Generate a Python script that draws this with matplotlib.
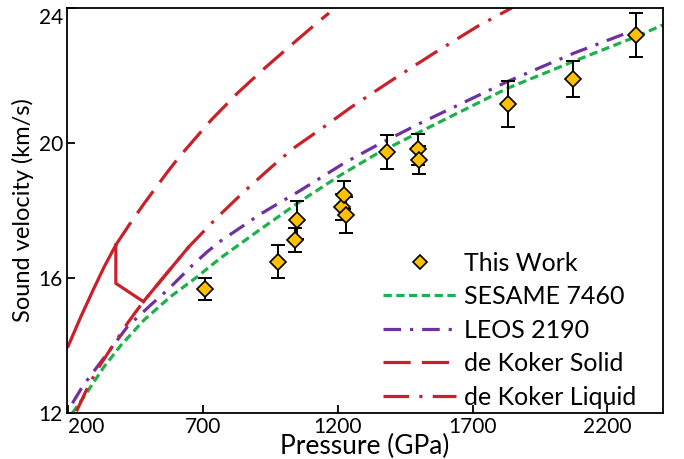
import matplotlib
matplotlib.use('Agg')
import matplotlib.pyplot as plt
from matplotlib.lines import Line2D
import numpy as np

plt.rcParams['font.family'] = ['Lato', 'DejaVu Sans']

# --- data --------------------------------------------------------
# This Work (pressure GPa, sound velocity km/s, error)
work_p = [709, 979, 1041, 1048, 1217, 1223, 1232, 1384, 1499, 1501, 1832, 2072, 2306]
work_v = [15.67, 16.48, 17.13, 17.72, 18.11, 18.46, 17.87, 19.74, 19.81, 19.50, 21.15, 21.89, 23.19]
work_err = [0.33, 0.49, 0.35, 0.56, 0.38, 0.41, 0.54, 0.50, 0.45, 0.41, 0.69, 0.54, 0.65]

# SESAME 7460
sesame_p = [217, 260, 334, 396, 483, 581, 680, 767, 915, 1063, 1211, 1347, 1520, 1829, 2075, 2306, 2406]
sesame_v = [12.0, 12.48, 13.37, 14.0, 14.76, 15.45, 16.04, 16.6, 17.45, 18.28, 19.05, 19.69, 20.39, 21.62, 22.42, 23.15, 23.5]

# LEOS 2190
leos_p = [217, 254, 291, 421, 507, 569, 662, 717, 767, 915, 1063, 1223, 1347, 1507, 1829, 2075, 2285]
leos_v = [12.29, 12.78, 13.18, 14.56, 15.2, 15.64, 16.38, 16.78, 17.1, 17.9, 18.6, 19.4, 19.94, 20.59, 21.82, 22.66, 23.3]

# de Koker solid
solid_p = [200, 248, 297, 334, 378, 427, 483, 569, 612, 730, 829, 927, 1026, 1131, 1168]
solid_v = [13.96, 14.85, 15.7, 16.32, 16.98, 17.57, 18.21, 19.14, 19.58, 20.67, 21.48, 22.2, 22.89, 23.61, 23.85]

# de Koker liquid
liquid_p = [232, 273, 310, 372, 421, 452, 480, 570, 649, 754, 852, 952, 1037, 1148, 1248, 1403, 1557, 1717, 1845]
liquid_v = [12.05, 12.75, 13.3, 14.06, 14.66, 15.0, 15.3, 16.17, 16.93, 17.8, 18.55, 19.27, 19.85, 20.47, 21.05, 21.87, 22.66, 23.45, 24.0]

# melting path between solid and liquid branches
melt_p = [378, 378, 480]
melt_v = [16.98, 15.84, 15.3]
solid_end = 378             # solid branch drawn solid up to here
liquid_range = (480, 649)   # liquid branch drawn solid in this range

red = '#C9202A'
green = '#1DB14B'
purple = '#7030A0'
gold = '#FFC000'

fig = plt.figure(figsize=(6.84, 4.59), dpi=100)
ax = fig.add_axes([0.098, 0.1002, 0.871, 0.8824])

lw = 2.3
ses_ls = (0, (2.6, 1.4))
leos_ls = (0, (5.5, 2.8, 1, 2.8))
sol_ls = (0, (8.5, 3.5))
liq_ls = (0, (8, 3.2, 1, 3.2))

ax.plot(sesame_p, sesame_v, color=green, lw=lw, ls=ses_ls)
ax.plot(leos_p, leos_v, color=purple, lw=lw, ls=leos_ls)

sp = np.array(solid_p); sv = np.array(solid_v)
lp = np.array(liquid_p); lv = np.array(liquid_v)
ax.plot(sp[sp >= solid_end], sv[sp >= solid_end], color=red, lw=lw, ls=sol_ls)
ax.plot(lp, lv, color=red, lw=lw, ls=liq_ls)
# shock path drawn solid
ax.plot(sp[sp <= solid_end], sv[sp <= solid_end], color=red, lw=lw, solid_capstyle='round')
ax.plot(melt_p, melt_v, color=red, lw=lw)
m = (lp >= liquid_range[0]) & (lp <= liquid_range[1])
ax.plot(lp[m], lv[m], color=red, lw=lw, solid_capstyle='round')

ax.errorbar(work_p, work_v, yerr=work_err, fmt='none', ecolor='black',
            elinewidth=1.4, capsize=5, capthick=1.4, zorder=4)
ax.plot(work_p, work_v, 'D', color=gold, mec='black', mew=1.2, ms=8.5, ls='none', zorder=5)

ax.set_xlim(197, 2405)
ax.set_ylim(12, 24)
ax.set_xticks([200, 700, 1200, 1700, 2200])
ax.set_yticks([12, 16, 20, 24])
ax.tick_params(direction='in', length=6, width=1.3, labelsize=15, pad=3)
ax.get_xticklabels()[0].set_ha('left')
ax.get_yticklabels()[-1].set_va('top')
for s in ax.spines.values():
    s.set_linewidth(1.3)

ax.set_xlabel('Pressure (GPa)', fontsize=19, labelpad=-2)
ax.set_ylabel('Sound velocity (km/s)', fontsize=17, labelpad=3)

handles = [Line2D([], [], marker='D', color=gold, mec='black', mew=1.2, ms=7, ls='none'),
           Line2D([], [], color=green, lw=lw, ls=ses_ls),
           Line2D([], [], color=purple, lw=lw, ls=leos_ls),
           Line2D([], [], color=red, lw=lw, ls=sol_ls),
           Line2D([], [], color=red, lw=lw, ls=liq_ls)]
labels = ['This Work', 'SESAME 7460', 'LEOS 2190', 'de Koker Solid', 'de Koker Liquid']
ax.legend(handles, labels, loc='lower right', bbox_to_anchor=(0.994, -0.045), frameon=False,
          fontsize=18, handlelength=2.92, handletextpad=0.32, labelspacing=0.42)

fig.savefig('out.png', dpi=100)
